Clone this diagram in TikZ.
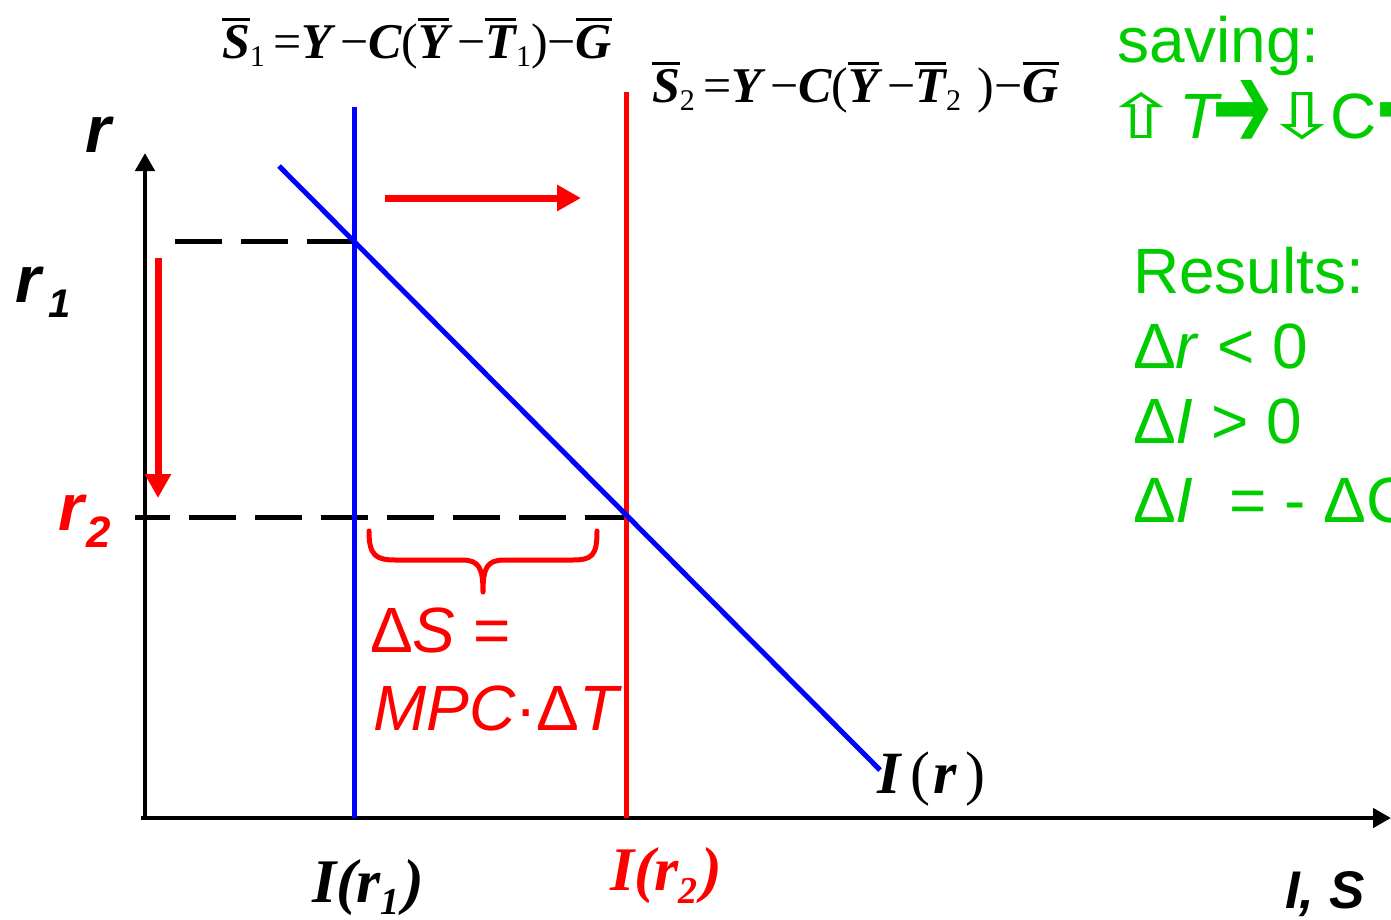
\documentclass[tikz,border=0pt]{standalone}
\usepackage{fontspec}
\usepackage{graphicx}
\setmainfont{Liberation Serif}
\newfontfamily\arial{Liberation Sans}
\newfontfamily\dejavu{DejaVu Sans}
\usetikzlibrary{arrows.meta}
\definecolor{mygreen}{RGB}{0,204,0}
\definecolor{myred}{RGB}{255,0,0}
\definecolor{myblue}{RGB}{0,0,255}
\newcommand\fs[1]{\fontsize{#1}{#1}\selectfont}
\newcommand\ov[1]{\leavevmode\vbox{\hrule height 3pt\kern 4pt\hbox{\bfseries\itshape #1}}}
\newcommand\bi[1]{{\bfseries\itshape #1}}
\newcommand\uparr{\resizebox{76pt}{46pt}{\dejavu ⇧}}
\newcommand\dnarr{\resizebox{76pt}{46pt}{\dejavu ⇩}}
\newcommand\rtarr{\raisebox{-10pt}{\resizebox{60pt}{68pt}{\dejavu ➔}}}
\tikzset{
  lab/.style={inner sep=0pt, outer sep=0pt, anchor=base west},
  axisline/.style={line width=4.5pt, black, -{Triangle[length=18pt,width=19pt]}},
  curveline/.style={line width=5pt},
  guide/.style={line width=5pt, black, dash pattern=on 47pt off 19pt},
  shiftarrow/.style={line width=7pt, myred, -{Triangle[length=24pt,width=25pt]}},
}
\begin{document}
\begin{tikzpicture}[x=1pt,y=-1pt]
\clip (0,0) rectangle (1391,919);
\fill[white] (0,0) rectangle (1391,919);
% coordinates
\coordinate (yb) at (145,820);
\coordinate (yt) at (145,153);
\coordinate (xb) at (141,818);
\coordinate (xt) at (1391,818);
\coordinate (b1) at (354,107);
\coordinate (b0) at (354,818);
\coordinate (c1) at (626,92);
\coordinate (c0) at (626,818);
\coordinate (d1) at (279,166);
\coordinate (d0) at (880,770);
\coordinate (g1a) at (175,241);
\coordinate (g1b) at (354,241);
\coordinate (g2a) at (135,517);
\coordinate (g2b) at (626,517);
\coordinate (h1) at (385,198);
\coordinate (h2) at (581,198);
\coordinate (v1) at (158,258);
\coordinate (v2) at (158,498);
% guides
\draw[guide] (g1a) -- (g1b);
\draw[guide, dash phase=12pt] (g2a) -- (g2b);
% axes
\draw[axisline] (yb) -- (yt);
\draw[axisline] (xb) -- (xt);
% curves
\draw[curveline, myblue] (b1) -- (b0);
\draw[curveline, myred] (c1) -- (c0);
\draw[curveline, myblue] (d1) -- (d0);
% arrows
\draw[shiftarrow] (h1) -- (h2);
\draw[shiftarrow] (v1) -- (v2);
% brace
\draw[line width=5pt, myred, line cap=round, line join=round]
  (369,531) .. controls (369,556) and (376,560) .. (396,560) -- (462,560)
  .. controls (479,560) and (483,568) .. (483,592)
  .. controls (483,568) and (487,560) .. (504,560) -- (572,560)
  .. controls (592,560) and (597,556) .. (597,531);
% axis labels
\node[lab] (lr) at (85,152) {\arial\bfseries\itshape\fs{66}r};
\node[lab] (lr1) at (15,302) {\arial\bfseries\itshape\fs{66}r\kern8pt\raisebox{-15pt}{\fs{40}1}};
\node[lab, text=myred] (lr2) at (58,530) {\arial\bfseries\itshape\fs{66}r\kern3pt\raisebox{-17pt}{\fs{44}2}};
\node[lab] (lIr1) at (312,902) {\bfseries\itshape\fs{62}I(r\raisebox{-12pt}{\fs{38}1}\kern4pt)};
\node[lab, text=myred] (lIr2) at (610,890) {\bfseries\itshape\fs{62}I(r\raisebox{-13pt}{\fs{38}2}\kern4pt)};
\node[lab] (lIS) at (1285,908) {\arial\bfseries\itshape\fs{53}I, S};
\node[lab] (lIr) at (877,793) {\fs{60}\bi{I}\kern10pt(\kern3pt\bi{r}\kern9pt)};
% formulas
\node[lab] (f1) at (222,58) {\fs{50}\ov{S}\raisebox{-8pt}{\fs{30}1}\,=\bi{Y}\,−\bi{C}(\ov{Y}\,−\ov{T}\raisebox{-8pt}{\fs{30}1})−\ov{G}};
\node[lab] (f2) at (652,102) {\fs{50}\ov{S}\raisebox{-8pt}{\fs{30}2}\,=\bi{Y}\,−\bi{C}(\ov{Y}\,−\ov{T}\raisebox{-8pt}{\fs{30}2}\,\,)−\ov{G}};
% delta S
\node[lab, text=myred] (ds1) at (370,652) {\arial\fs{64}Δ\textit{S} =};
\node[lab, text=myred] (ds2) at (373,730) {\arial\fs{64}\textit{MPC}·Δ\textit{T}};
% green text
\node[lab, text=mygreen] (sv) at (1117,62) {\arial\fs{64}saving:};
\node[lab, text=mygreen] (sv2) at (1103,138) {\arial\fs{64}\makebox[76pt][l]{\uparr}\makebox[33pt][l]{\textit{T}}\makebox[52pt][l]{\rtarr}\makebox[76pt][l]{\dnarr}\kern-10pt C\rtarr};
\node[lab, text=mygreen] (res) at (1133,293) {\arial\fs{64}Results:};
\node[lab, text=mygreen] (r1) at (1133,368) {\arial\fs{64}Δ\textit{r} < 0};
\node[lab, text=mygreen] (r2) at (1133,443) {\arial\fs{64}Δ\textit{I} > 0};
\node[lab, text=mygreen] (r3) at (1133,522) {\arial\fs{64}Δ\textit{I}\ \ = - ΔC};
\end{tikzpicture}
\end{document}
